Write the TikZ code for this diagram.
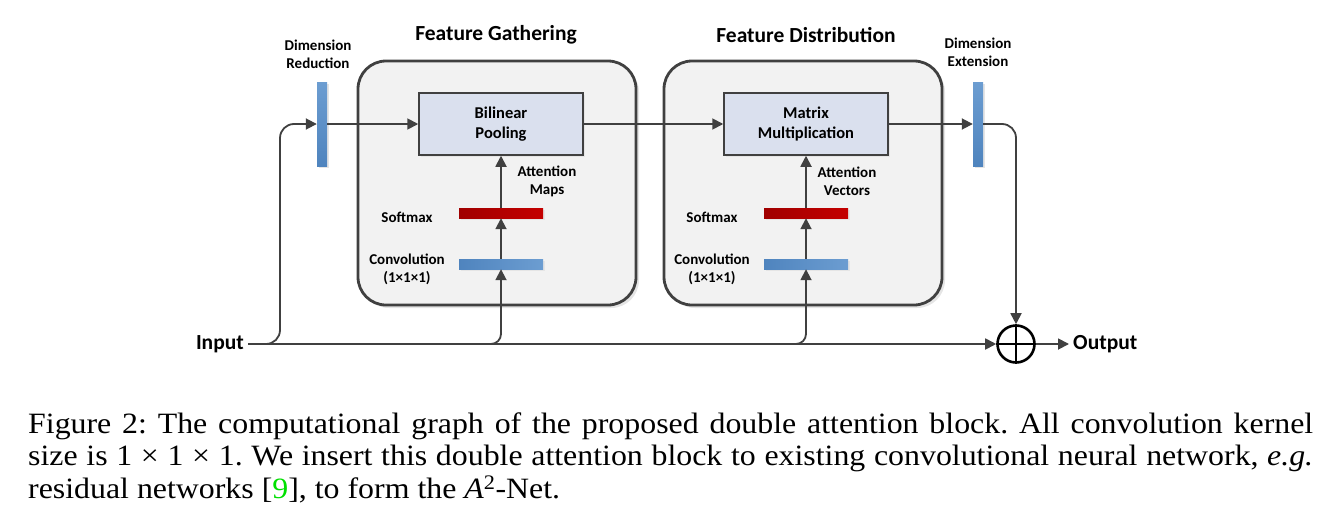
\documentclass[tikz,border=0pt]{standalone}
\usepackage{fontspec}
\setmainfont{Carlito}
\newfontfamily\capfont[FakeStretch=1.08]{Liberation Serif}
\usetikzlibrary{positioning,arrows.meta,shadows}

\definecolor{linegray}{HTML}{404040}
\definecolor{panelfill}{HTML}{F2F2F2}
\definecolor{opfill}{HTML}{DAE0EE}
\definecolor{bardark}{HTML}{4F84BE}
\definecolor{barlight}{HTML}{6C9DD1}
\definecolor{reddark}{HTML}{A00000}
\definecolor{redlight}{HTML}{C40000}
\definecolor{citegreen}{HTML}{00E000}

\begin{document}
\begin{tikzpicture}[
  x=1pt,y=-1pt,
  lbl/.style={font=\fontsize{15}{18}\selectfont\bfseries,align=center,inner sep=0pt},
  title/.style={font=\fontsize{21.5}{24}\selectfont\bfseries,inner sep=0pt},
  io/.style={font=\fontsize{21.5}{24}\selectfont\bfseries,inner sep=4pt},
  panel/.style={draw=linegray,line width=2.8pt,fill=panelfill,rounded corners=28pt,
    minimum width=278pt,minimum height=244pt,
    drop shadow={shadow xshift=3pt,shadow yshift=-3pt,fill=black!10,opacity=1}},
  op/.style={draw=linegray,line width=1.5pt,fill=opfill,minimum width=164pt,minimum height=62pt,
    font=\fontsize{16.5}{20}\selectfont\bfseries,align=center,
    drop shadow={shadow xshift=2pt,shadow yshift=-2pt,fill=black!10,opacity=1}},
  barshadow/.style={drop shadow={shadow xshift=2pt,shadow yshift=-2pt,fill=black!10,opacity=1}},
  vbar/.style={minimum width=10pt,minimum height=84pt,inner sep=0pt,top color=barlight,bottom color=bardark,barshadow},
  convbar/.style={minimum width=84pt,minimum height=10pt,inner sep=0pt,left color=bardark,right color=barlight,barshadow},
  softbar/.style={minimum width=84pt,minimum height=10pt,inner sep=0pt,left color=reddark,right color=redlight,barshadow},
  plus/.style={circle,draw=black,line width=2.6pt,minimum size=37pt,inner sep=0pt},
  arr/.style={draw=linegray,line width=1.8pt,-{Triangle[length=11pt,width=11pt]}}
]
\useasboundingbox (0,0) rectangle (1329,522);
% ---------------- feature gathering ----------------
\node[title] (fgtitle) at (496,35) {Feature Gathering};
\node[panel] (fg) at (497,183) {};
\node[op] (pool) at (501,124) {Bilinear\\Pooling};
\node[softbar] (sm1) at (501,213) {};
\node[convbar] (cv1) at (501,264) {};
\node[lbl] (sm1lbl) at (407,217) {Softmax};
\node[lbl] (cv1lbl) at (407,269) {Convolution\\(1×1×1)};
\node[lbl] (att1) at (547,181) {Attention\\Maps};

% ---------------- feature distribution ----------------
\begin{scope}[xshift=306pt]
\node[title] (fdtitle) at (500,35) {Feature Distribution};
\node[panel] (fd) at (497,183) {};
\node[op] (mat) at (500,124) {Matrix\\Multiplication};
\node[softbar] (sm2) at (500,213) {};
\node[convbar] (cv2) at (500,264) {};
\node[lbl] (sm2lbl) at (406,217) {Softmax};
\node[lbl] (cv2lbl) at (406,269) {Convolution\\(1×1×1)};
\node[lbl] (att2) at (541,181) {Attention\\Vectors};
\end{scope}

% ---------------- reduction / extension ----------------
\node[vbar] (red) at (322,124) {};
\node[lbl] (redlbl) at (318,54) {Dimension\\Reduction};
\node[vbar] (ext) at (978,124) {};
\node[lbl] (extlbl) at (978,52) {Dimension\\Extension};

% ---------------- input / output ----------------
\node[io,anchor=east] (inp) at (248,344) {Input};
\node[plus] (sum) at (1016,344) {};
\draw[line width=2.6pt] (sum.north) -- (sum.south) (sum.west) -- (sum.east);
\node[io,anchor=west] (outp) at (1069,344) {Output};
\coordinate (up) at (280,344);

\draw[arr] (inp.east) -- (sum.west);
\draw[arr,rounded corners=14pt] (inp.east) -- (up) |- (red.west);
\draw[arr,rounded corners=10pt] (inp.east) -| (cv1.south);
\draw[arr,rounded corners=10pt] (inp.east) -| (cv2.south);
\draw[arr] (cv1.north) -- (sm1.south);
\draw[arr] (sm1.north) -- (pool.south);
\draw[arr] (cv2.north) -- (sm2.south);
\draw[arr] (sm2.north) -- (mat.south);
\draw[arr] (red.east) -- (pool.west);
\draw[arr] (pool.east) -- (mat.west);
\draw[arr] (mat.east) -- (ext.west);
\draw[arr,rounded corners=14pt] (ext.east) -| (sum.north);
\draw[arr] (sum.east) -- (outp.west);

% ---------------- caption ----------------
\node[anchor=north west,inner sep=0pt,text width=1285pt,align=justify,
  font=\capfont\fontsize{29.5}{32.5}\selectfont\frenchspacing] (cap) at (28,412.5)
  {Figure 2: The computational graph of the proposed double attention block. All convolution kernel\linebreak
   size is 1 × 1 × 1. We insert this double attention block to existing convolutional neural network, \textit{e.g.}\linebreak
   residual networks [{\color{citegreen}9}], to form the \textit{A}\textsuperscript{2}-Net.};
\end{tikzpicture}
\end{document}
